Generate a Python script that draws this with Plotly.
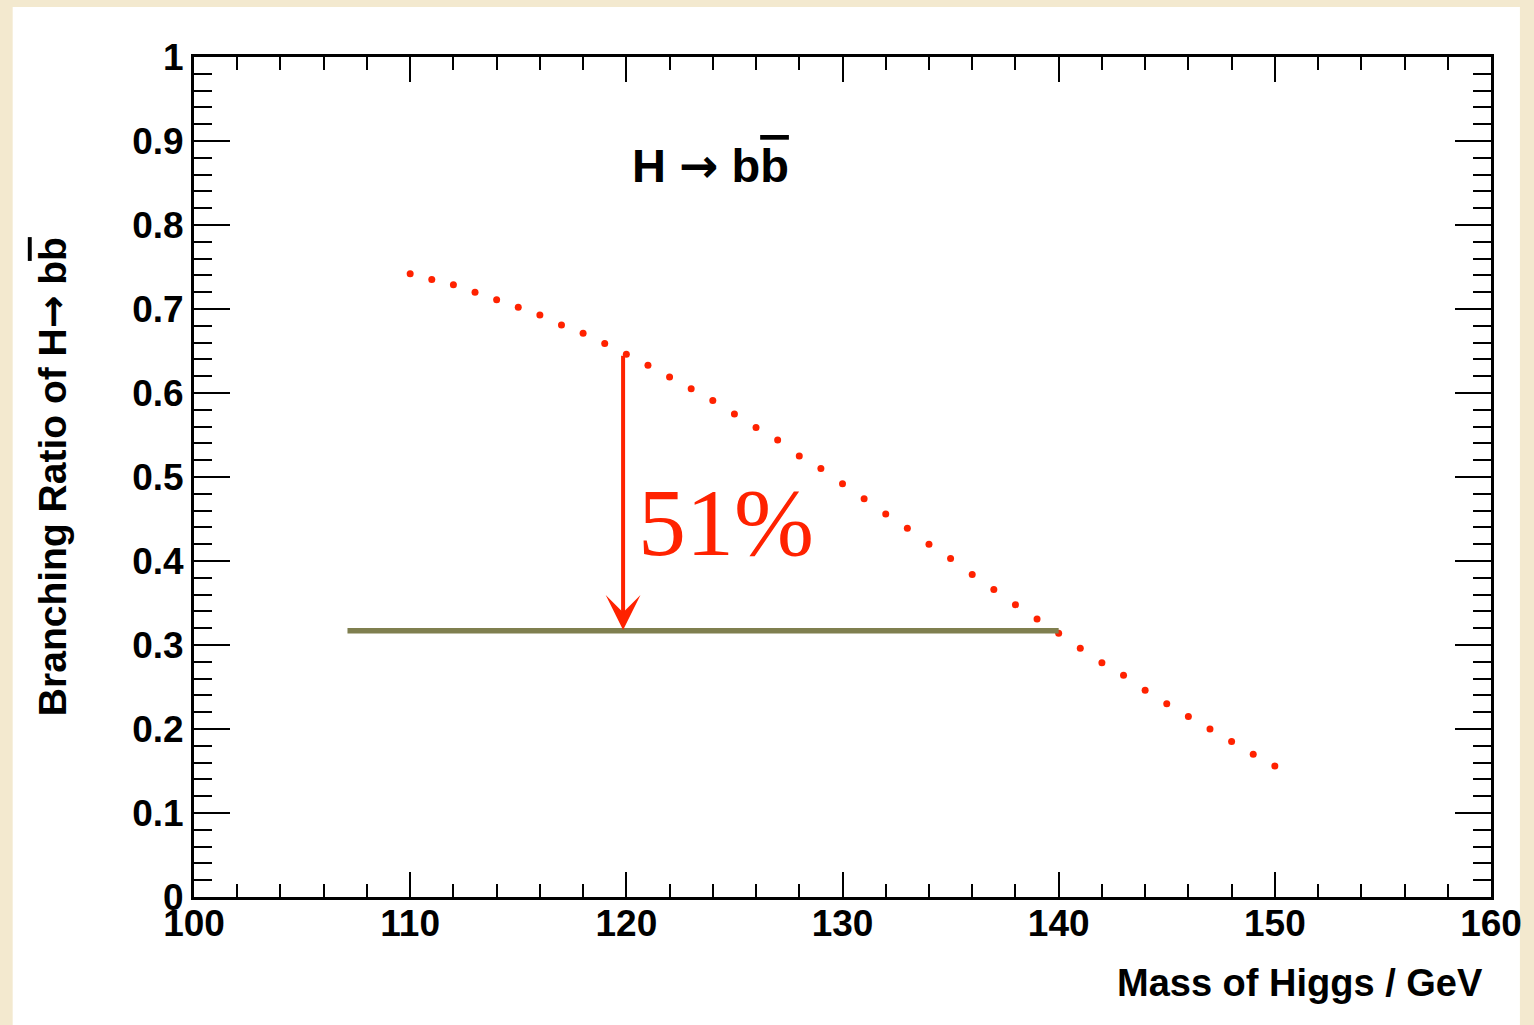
import plotly.graph_objects as go

# ---- data ----
mass = list(range(110, 151))
br_bb = [0.742, 0.735, 0.729, 0.720, 0.711, 0.702, 0.693, 0.681, 0.671, 0.659,
         0.646, 0.633, 0.619, 0.605, 0.591, 0.575, 0.559, 0.544, 0.525, 0.510,
         0.492, 0.474, 0.456, 0.439, 0.420, 0.403, 0.384, 0.366, 0.348, 0.331,
         0.314, 0.296, 0.279, 0.264, 0.246, 0.230, 0.215, 0.200, 0.185, 0.170,
         0.156]
level_x = [107.1, 140.0]
level_y = [0.317, 0.317]
arrow_x = 119.85
arrow_from = 0.646
arrow_to = 0.318
label_pct = "51%"
x_ticks = [100, 110, 120, 130, 140, 150, 160]

RED = "#FF2200"
OLIVE = "#7F7F4F"
BEIGE = "#F3E9CF"

fig = go.Figure()
fig.add_trace(go.Scatter(x=mass, y=br_bb, mode="markers",
                         marker=dict(color=RED, size=7), hoverinfo="skip"))
fig.add_trace(go.Scatter(x=level_x, y=level_y, mode="lines",
                         line=dict(color=OLIVE, width=5.5), hoverinfo="skip"))

# white sheet on beige background
fig.add_shape(type="rect", xref="paper", yref="paper",
              x0=-0.1398, x1=1.0223, y0=-0.1524, y1=1.0595,
              fillcolor="white", line=dict(width=0), layer="below")

bold = dict(family="Liberation Sans, Arial, sans-serif", color="black", weight="bold")
ARROW = "<span style='font-family:DejaVu Sans'>\u2192</span>"
BBAR = "b<span style='text-decoration:overline'>b</span>"

fig.add_annotation(x=arrow_x, y=arrow_to, ax=arrow_x, ay=arrow_from,
                   xref="x", yref="y", axref="x", ayref="y",
                   text="", showarrow=True, arrowhead=3, arrowwidth=4,
                   arrowsize=1.45, arrowcolor=RED, standoff=0, startstandoff=0)
fig.add_annotation(x=124.6, y=0.446, xref="x", yref="y", text=label_pct,
                   showarrow=False,
                   font=dict(family="Liberation Serif, Times New Roman, serif",
                             size=96, color=RED))
fig.add_annotation(x=123.9, y=0.871, xref="x", yref="y",
                   text="H " + ARROW + " " + BBAR,
                   showarrow=False, font=dict(size=47, **bold))
fig.add_annotation(x=-0.1095, y=0.501, xref="paper", yref="paper", textangle=-90,
                   xanchor="center", yanchor="middle",
                   text="Branching Ratio of H" + ARROW + " " + BBAR,
                   showarrow=False, font=dict(size=39, **bold))
fig.add_annotation(x=0.9954, y=-0.1024, xref="paper", yref="paper",
                   xanchor="right", yanchor="middle",
                   text="Mass of Higgs / GeV", showarrow=False,
                   font=dict(size=38, **bold))

fig.update_xaxes(range=[100, 160], tickvals=x_ticks, ticks="inside", ticklen=25,
                 tickwidth=2, tickcolor="black", showline=True, linewidth=3,
                 linecolor="black", mirror="ticks", showgrid=False, zeroline=False,
                 tickfont=dict(size=37, **bold), ticklabelstandoff=-8,
                 minor=dict(dtick=2, ticks="inside", ticklen=13, tickwidth=2,
                            tickcolor="black", showgrid=False))
fig.update_yaxes(range=[0, 1], dtick=0.1, ticks="inside", ticklen=36,
                 tickwidth=2, tickcolor="black", showline=True, linewidth=3,
                 linecolor="black", mirror="ticks", showgrid=False, zeroline=False,
                 tickfont=dict(size=37, **bold),
                 minor=dict(dtick=0.02, ticks="inside", ticklen=18, tickwidth=2,
                            tickcolor="black", showgrid=False))

fig.update_layout(width=1534, height=1025,
                  margin=dict(l=194, r=38, t=57, b=128),
                  paper_bgcolor=BEIGE, plot_bgcolor="white",
                  showlegend=False)

fig.write_html("out.html", config={"displayModeBar": False},
               post_script="document.body.style.margin='0';")
